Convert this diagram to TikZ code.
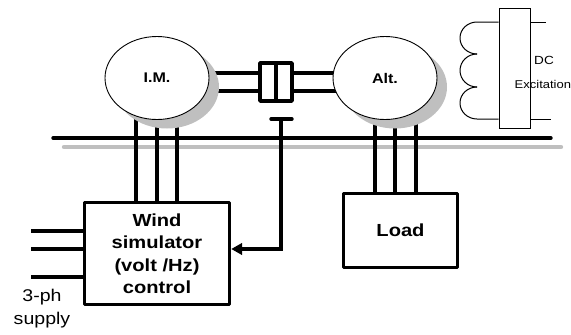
\documentclass[tikz,border=0pt]{standalone}
\usepackage{fontspec}
\setmainfont[FakeStretch=1.15]{Liberation Sans}
\usetikzlibrary{positioning}
\usetikzlibrary{shapes}
\usetikzlibrary{calc}
\usetikzlibrary{arrows.meta}
\usetikzlibrary{backgrounds}
\definecolor{shade}{gray}{0.75}

\begin{document}
\begin{tikzpicture}[x=1pt, y=-1pt,
        machine/.style={ellipse, draw, fill=white, line width=0.9pt, minimum width=104pt, minimum height=83pt, inner sep=0pt, font=\fontsize{14}{16}\selectfont\bfseries},
        shadow/.style={ellipse, fill=shade, minimum width=104pt, minimum height=83pt, inner sep=0pt},
        block/.style={rectangle, draw, line width=3.4pt, line join=round, fill=white, inner sep=0pt, align=center, font=\fontsize{17.5}{22.5}\selectfont\bfseries},
        wire/.style={line width=3.4pt},
        thin wire/.style={line width=1pt},
        caption/.style={inner sep=0pt, align=center}]
        \useasboundingbox (0, 0) rectangle (571, 335);

        \node[shadow] (imshadow) at (167, 87) {};
        \node[shadow] (altshadow) at (395, 87) {};
        \node[machine] (im) at (157, 78) {I.M.};
        \node[machine] (alt) at (385, 78) {Alt.};

        \node[block, minimum width=145pt, minimum height=101.5pt] (wind) at (157, 253.5) {Wind\\simulator\\(volt /Hz)\\control};
        \node[block, minimum width=114.5pt, minimum height=74.5pt] (load) at (400.5, 230.5) {Load};
        \node[block, minimum width=32pt, minimum height=38pt] (coupler) at (276, 82) {};
        \node[rectangle, draw, thin wire, minimum width=31pt, minimum height=120pt] (exciter) at (514.5, 68) {};

        \node[caption, font=\fontsize{11.8}{13}\selectfont] (dc) at (544, 60) {DC};
        \node[caption, font=\fontsize{11.3}{13}\selectfont, anchor=west] (excitation) at (514.5, 84) {Excitation};
        \node[caption, font=\fontsize{17}{19}\selectfont] (phase) at (42, 297) {3-ph};
        \node[caption, font=\fontsize{17}{19}\selectfont] (supply) at (42, 320) {supply};

        \coordinate (busa) at (53, 138);
        \coordinate (busb) at (551, 138);
        \coordinate (busc) at (64, 147);
        \coordinate (busd) at (561, 147);
        \coordinate (shafta) at (276, 73);
        \coordinate (shaftb) at (276, 91);
        \coordinate (bara) at (271, 119);
        \coordinate (barb) at (292, 119);
        \coordinate (bar) at (281, 119);
        \coordinate (ina) at (31, 231);
        \coordinate (inb) at (31, 249);
        \coordinate (inc) at (31, 277);
        \coordinate (coila) at (477, 22);
        \coordinate (coilb) at (477, 54);
        \coordinate (coilc) at (477, 87);
        \coordinate (coild) at (477, 119);
        \coordinate (stuba) at (546, 22);
        \coordinate (stubb) at (551, 119);
        \coordinate (ima) at (136, 78);
        \coordinate (imb) at (157, 78);
        \coordinate (imc) at (177, 78);
        \coordinate (alta) at (375, 78);
        \coordinate (altb) at (395, 78);
        \coordinate (altc) at (416, 78);

        % wires that run behind the machines
        \begin{scope}[on background layer]
            \draw[line width=4.4pt, color=shade, line cap=round] (busc) -- (busd);
            \draw[wire] (ima) -- (ima |- wind.north);
            \draw[wire] (imb) -- (imb |- wind.north);
            \draw[wire] (imc) -- (imc |- wind.north);
            \draw[wire] (alta) -- (alta |- load.north);
            \draw[wire] (altb) -- (altb |- load.north);
            \draw[wire] (altc) -- (altc |- load.north);
            \draw[wire] (im.center |- shafta) -- (coupler.west |- shafta);
            \draw[wire] (im.center |- shaftb) -- (coupler.west |- shaftb);
            \draw[wire] (alt.center |- shafta) -- (coupler.east |- shafta);
            \draw[wire] (alt.center |- shaftb) -- (coupler.east |- shaftb);
        \end{scope}

        \draw[wire, line cap=round] (busa) -- (busb);
        \draw[wire] (coupler.north) -- (coupler.south);
        \draw[wire, line cap=round] (bara) -- (barb);
        \draw[wire, -{Triangle[length=11pt, width=11.5pt]}] (bar) -- (bar |- inb) -- (inb -| wind.east);
        \draw[wire] (ina) -- (ina -| wind.west);
        \draw[wire] (inb) -- (inb -| wind.west);
        \draw[wire] (inc) -- (inc -| wind.west);

        \draw[thin wire] (exciter.west |- coila) -- (coila) arc (270:90:17 and 16);
        \draw[thin wire] (coilb) arc (270:90:17 and 16.5);
        \draw[thin wire] (coilc) arc (270:90:17 and 16) -- (exciter.west |- coild);
        \draw[thin wire] (exciter.east |- stuba) -- (stuba);
        \draw[thin wire] (exciter.east |- stubb) -- (stubb);
    \end{tikzpicture}
\end{document}
